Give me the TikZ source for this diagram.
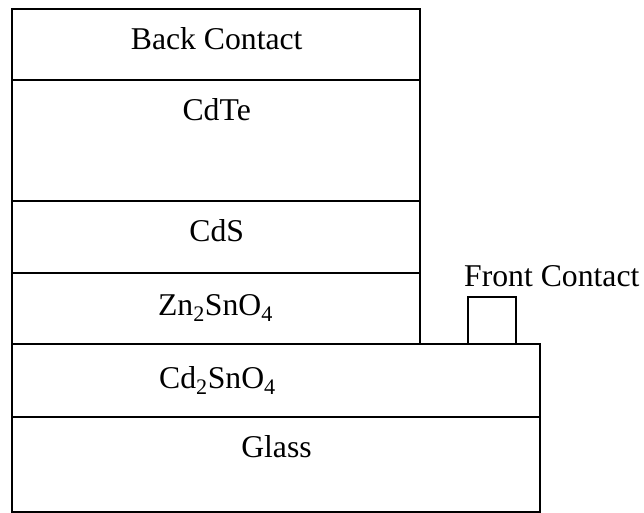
\documentclass[tikz,border=0pt]{standalone}
\usepackage{fontspec}
\setmainfont{Liberation Serif}
\begin{document}
\begin{tikzpicture}[x=1pt,y=-1pt,
  layer/.style={line width=2pt, line join=miter},
  lbl/.style={inner sep=0pt, anchor=base, font=\fontsize{31.7}{38}\selectfont}]
\useasboundingbox (0,0) rectangle (644,513);
% upper stack
\draw[layer] (12,9) rectangle (420,344);
\draw[layer] (12,80) -- (420,80);
\draw[layer] (12,201) -- (420,201);
\draw[layer] (12,273) -- (420,273);
% lower wide stack
\draw[layer] (12,344) rectangle (540,512);
\draw[layer] (12,417) -- (540,417);
% front contact pad
\draw[layer] (467.7,344) -- (467.7,297.3) -- (515.7,297.3) -- (515.7,344);
% labels
\node[lbl] (back) at (216.7,49.3) {Back Contact};
\node[lbl] (cdte) at (216.7,120.5) {CdTe};
\node[lbl] (cds) at (216.7,241.5) {CdS};
\node[lbl] (zto) at (215.5,315) {Zn\textsubscript{2}SnO\textsubscript{4}};
\node[lbl] (cto) at (217.5,388) {Cd\textsubscript{2}SnO\textsubscript{4}};
\node[lbl] (glass) at (276.5,457) {Glass};
\node[lbl, anchor=base west] (front) at (464,286.7) {Front Contact};
\end{tikzpicture}
\end{document}
